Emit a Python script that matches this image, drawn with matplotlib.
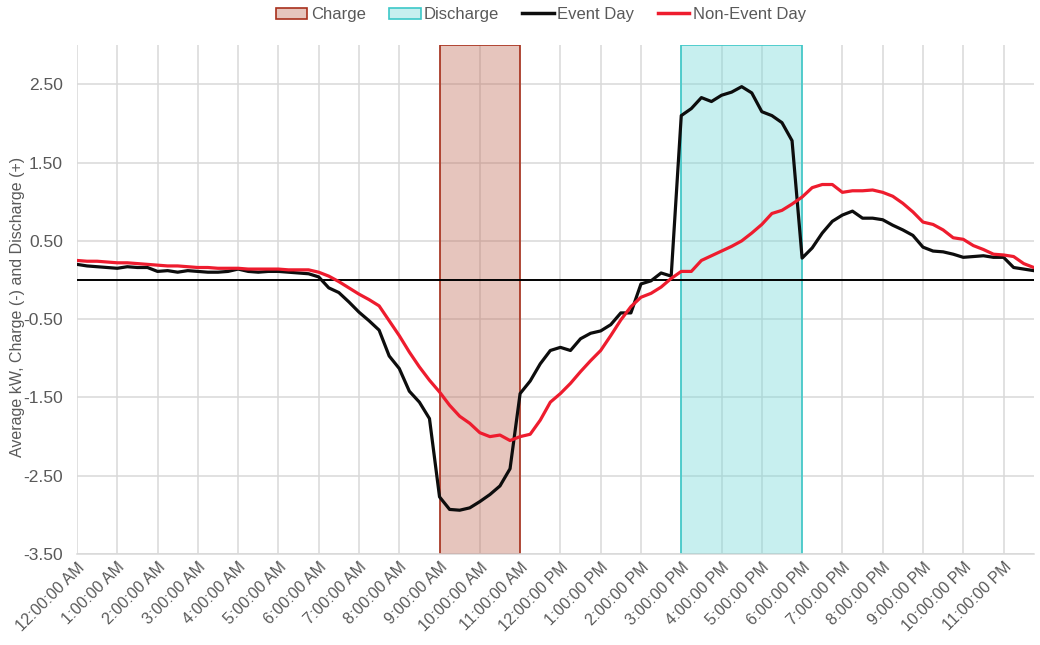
import numpy as np
import matplotlib
matplotlib.use('Agg')
import matplotlib.pyplot as plt
from matplotlib.patches import Patch
from matplotlib.lines import Line2D

plt.rcParams['font.family'] = ['Liberation Sans', 'DejaVu Sans']

# 15-minute intervals, 12:00 AM .. 11:45 PM
event_day = [
    0.20, 0.18, 0.17, 0.16, 0.15, 0.17, 0.16, 0.16,
    0.11, 0.12, 0.10, 0.12, 0.11, 0.10, 0.10, 0.11,
    0.14, 0.11, 0.10, 0.11, 0.11, 0.10, 0.09, 0.08,
    0.04, -0.10, -0.16, -0.28, -0.41, -0.52, -0.64, -0.97,
    -1.13, -1.42, -1.56, -1.77, -2.77, -2.93, -2.94, -2.91,
    -2.83, -2.74, -2.63, -2.41, -1.45, -1.29, -1.07, -0.90,
    -0.86, -0.90, -0.75, -0.68, -0.65, -0.57, -0.42, -0.42,
    -0.05, -0.01, 0.09, 0.05, 2.10, 2.19, 2.33, 2.28,
    2.36, 2.40, 2.47, 2.39, 2.15, 2.10, 2.01, 1.78,
    0.28, 0.41, 0.60, 0.75, 0.83, 0.88, 0.79, 0.79,
    0.77, 0.70, 0.64, 0.57, 0.42, 0.37, 0.36, 0.33,
    0.29, 0.30, 0.31, 0.29, 0.29, 0.16, 0.14, 0.12,
]
non_event_day = [
    0.25, 0.24, 0.24, 0.23, 0.22, 0.22, 0.21, 0.20,
    0.19, 0.18, 0.18, 0.17, 0.16, 0.16, 0.15, 0.15,
    0.15, 0.14, 0.14, 0.14, 0.14, 0.13, 0.13, 0.13,
    0.10, 0.05, -0.02, -0.10, -0.18, -0.25, -0.33, -0.52,
    -0.71, -0.92, -1.11, -1.28, -1.43, -1.60, -1.74, -1.83,
    -1.95, -2.00, -1.98, -2.05, -2.00, -1.97, -1.79, -1.56,
    -1.45, -1.32, -1.17, -1.03, -0.90, -0.71, -0.51, -0.34,
    -0.22, -0.17, -0.09, 0.02, 0.11, 0.11, 0.25, 0.31,
    0.37, 0.43, 0.50, 0.60, 0.71, 0.85, 0.89, 0.97,
    1.06, 1.18, 1.22, 1.22, 1.12, 1.14, 1.14, 1.15,
    1.12, 1.07, 0.98, 0.87, 0.74, 0.71, 0.64, 0.54,
    0.52, 0.44, 0.39, 0.33, 0.32, 0.30, 0.21, 0.16,
]
hour_labels = ['12:00:00 AM'] + ['%d:00:00 AM' % h for h in range(1, 12)] + \
              ['12:00:00 PM'] + ['%d:00:00 PM' % h for h in range(1, 12)]
charge_window = (9, 11)
discharge_window = (15, 18)

t = np.arange(len(event_day)) / 4.0

fig = plt.figure(figsize=(10.4, 6.45), dpi=100)
ax = fig.add_axes([0.074, 0.141, 0.920, 0.789])

grid_c = '#d9d9d9'
text_c = '#595959'

ax.axvspan(*charge_window, facecolor=(193/255, 110/255, 90/255), alpha=0.4, zorder=2)
ax.axvspan(*charge_window, facecolor='none', edgecolor='#a8301c', linewidth=1.2, zorder=2)
ax.axvspan(*discharge_window, facecolor=(115/255, 215/255, 215/255), alpha=0.4, zorder=2)
ax.axvspan(*discharge_window, facecolor='none', edgecolor='#3cc8c8', linewidth=1.2, zorder=2)

ax.axhline(0, color='black', linewidth=1.4, zorder=3)
ax.plot(t, event_day, color='#0d0d0d', linewidth=2.3, zorder=4)
ax.plot(t, non_event_day, color='#ee1c2e', linewidth=2.3, zorder=5)

ax.set_xlim(0, t[-1])
ax.set_ylim(-3.5, 3.0)
ax.set_yticks(np.arange(-3.5, 3.0, 1.0))
ax.set_yticklabels(['%.2f' % v for v in np.arange(-3.5, 3.0, 1.0)])
ax.set_xticks(range(24))
ax.set_xticklabels(hour_labels, rotation=45, ha='right', rotation_mode='anchor')

ax.grid(True, color=grid_c, linewidth=1.1, zorder=0)
ax.set_axisbelow(True)
for s in ['top', 'right', 'left']:
    ax.spines[s].set_visible(False)
ax.spines['bottom'].set_color(grid_c)
ax.spines['bottom'].set_linewidth(1.1)
ax.tick_params(axis='both', length=0, colors=text_c)
ax.tick_params(axis='x', labelsize=11.5, pad=4)
ax.tick_params(axis='y', labelsize=12.5, pad=10)

ax.set_ylabel('Average kW, Charge (-) and Discharge (+)', color=text_c, fontsize=11.5)
ax.yaxis.set_label_coords(-0.054, 0.485)

handles = [
    Patch(facecolor='#e6c5bd', edgecolor='#a8301c', linewidth=1.2, label='Charge'),
    Patch(facecolor='#c7efef', edgecolor='#3cc8c8', linewidth=1.2, label='Discharge'),
    Line2D([], [], color='#0d0d0d', linewidth=2.5, label='Event Day'),
    Line2D([], [], color='#ee1c2e', linewidth=2.5, label='Non-Event Day'),
]
leg = fig.legend(handles=handles, loc='upper center', bbox_to_anchor=(0.52, 1.012), ncol=4,
                 frameon=False, fontsize=12, handlelength=1.9, handletextpad=0.2, columnspacing=1.4)
for txt in leg.get_texts():
    txt.set_color(text_c)

fig.savefig('out.png', dpi=100)
